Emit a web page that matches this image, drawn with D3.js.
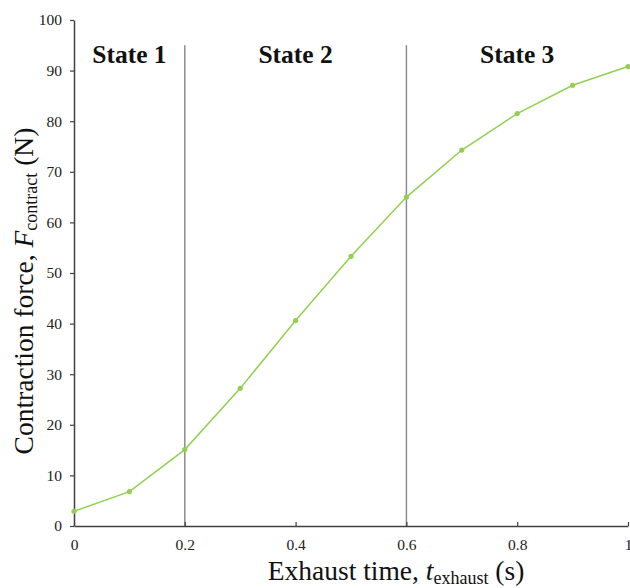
<!DOCTYPE html>
<html>
<head>
<meta charset="utf-8">
<script src="https://cdn.jsdelivr.net/npm/d3@7"></script>
<style>
  body { margin: 0; background: #fff; }
  svg { font-family: "Liberation Serif", "Times New Roman", serif; }
</style>
</head>
<body>
<svg id="chart" width="630" height="588"></svg>
<script>
// exhaust time (s) and contraction force (N)
const times = [0, 0.1, 0.2, 0.3, 0.4, 0.5, 0.6, 0.7, 0.8, 0.9, 1.0];
const forces = [2.9, 6.8, 15.1, 27.2, 40.6, 53.3, 65.0, 74.3, 81.5, 87.1, 90.8];
const xTicks = [0, 0.2, 0.4, 0.6, 0.8, 1];
const yTicks = [0, 10, 20, 30, 40, 50, 60, 70, 80, 90, 100];
const stateBounds = [0.2, 0.6];
const stateTop = 95;
const stateLabels = ["State 1", "State 2", "State 3"];
const stateCenters = [0.1, 0.4, 0.8];

const margin = {top: 20, right: 2, bottom: 62, left: 74};
const width = 630 - margin.left - margin.right,
      height = 588 - margin.top - margin.bottom;

const svg = d3.select("#chart");
const g = svg.append("g").attr("transform", `translate(${margin.left},${margin.top})`);

const x = d3.scaleLinear().domain([0, 1]).range([0, width]);
const y = d3.scaleLinear().domain([0, 100]).range([height, 0]);

/** state dividers */
g.selectAll(".divider").data(stateBounds).join("line")
  .attr("class", "divider")
  .attr("x1", d => x(d)).attr("x2", d => x(d))
  .attr("y1", y(stateTop)).attr("y2", y(0))
  .attr("stroke", "#8c8c8c").attr("stroke-width", 1.5);

/** axes */
const xAxis = g.append("g").attr("transform", `translate(0,${height})`)
  .call(d3.axisBottom(x).tickValues(xTicks).tickFormat(d => d).tickSizeInner(-4).tickSizeOuter(0).tickPadding(13));
const yAxis = g.append("g")
  .call(d3.axisLeft(y).tickValues(yTicks).tickSizeInner(4).tickSizeOuter(0).tickPadding(8));
[xAxis, yAxis].forEach(a => {
  a.select(".domain").attr("stroke", "#404040").attr("stroke-width", 1.5);
  a.selectAll(".tick line").attr("stroke", "#404040").attr("stroke-width", 1.2);
  a.selectAll(".tick text").attr("font-size", 15.5).attr("fill", "#222")
    .attr("font-family", "Liberation Serif");
});
xAxis.selectAll(".tick text").attr("dy", "0.71em");

/** line + markers */
const pts = times.map((t, i) => [t, forces[i]]);
g.append("path").datum(pts)
  .attr("fill", "none").attr("stroke", "#92d050").attr("stroke-width", 1.5)
  .attr("d", d3.line().x(d => x(d[0])).y(d => y(d[1])));
g.selectAll(".pt").data(pts).join("circle")
  .attr("class", "pt")
  .attr("cx", d => x(d[0])).attr("cy", d => y(d[1])).attr("r", 2.6)
  .attr("fill", "#92d050");

/** state labels */
g.selectAll(".stateLabel").data(stateLabels).join("text")
  .attr("class", "stateLabel")
  .attr("x", (d, i) => x(stateCenters[i]))
  .attr("y", 43)
  .attr("text-anchor", "middle")
  .attr("font-weight", "bold").attr("font-size", 25.5).attr("fill", "#111")
  .text(d => d);

/** axis titles */
const xt = svg.append("text")
  .attr("x", 396).attr("y", 580)
  .attr("text-anchor", "middle").attr("font-size", 27.5).attr("fill", "#111");
xt.append("tspan").text("Exhaust time, ");
xt.append("tspan").attr("font-style", "italic").text("t");
xt.append("tspan").attr("font-size", 18).attr("dy", 4).text("exhaust");
xt.append("tspan").attr("dy", -4).text(" (s)");

const yt = svg.append("text")
  .attr("transform", "translate(33,291) rotate(-90)")
  .attr("text-anchor", "middle").attr("font-size", 27.5).attr("fill", "#111");
yt.append("tspan").text("Contraction force, ");
yt.append("tspan").attr("font-style", "italic").text("F");
yt.append("tspan").attr("font-size", 18).attr("dy", 4).text("contract");
yt.append("tspan").attr("dy", -4).text(" (N)");
</script>
</body>
</html>
